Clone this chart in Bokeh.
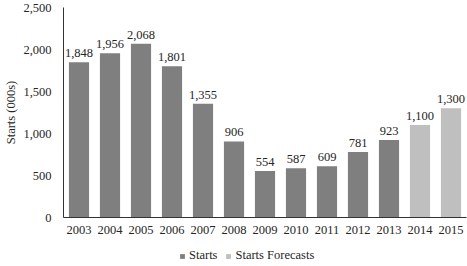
from bokeh.plotting import figure
from bokeh.layouts import column
from bokeh.models import ColumnDataSource, Legend, LegendItem, NumeralTickFormatter, FixedTicker, Range1d
from bokeh.core.properties import value
from bokeh.embed import file_html
from bokeh.resources import INLINE

years = ["2003", "2004", "2005", "2006", "2007", "2008", "2009", "2010", "2011", "2012", "2013", "2014", "2015"]
starts = [1848, 1956, 2068, 1801, 1355, 906, 554, 587, 609, 781, 923, 1100, 1300]
is_forecast = [False] * 11 + [True] * 2
labels = ["{:,}".format(v) for v in starts]
series_names = ["Starts", "Starts Forecasts"]

DARK = "#7f7f7f"
LIGHT = "#bfbfbf"
FONT = "Liberation Serif"
TXT = "#262626"

hist_idx = [i for i, f in enumerate(is_forecast) if not f]
fc_idx = [i for i, f in enumerate(is_forecast) if f]

src_h = ColumnDataSource(dict(x=[years[i] for i in hist_idx], top=[starts[i] for i in hist_idx],
                              lab=[labels[i] for i in hist_idx]))
src_f = ColumnDataSource(dict(x=[years[i] for i in fc_idx], top=[starts[i] for i in fc_idx],
                              lab=[labels[i] for i in fc_idx]))

p = figure(x_range=years, y_range=(0, 2500), width=467, height=239,
           output_backend="svg", toolbar_location=None,
           min_border_left=63, min_border_right=1, min_border_top=7, min_border_bottom=22)
p.x_range.range_padding = 0
p.outline_line_color = None
p.grid.grid_line_color = None
p.background_fill_color = "white"
p.border_fill_color = "white"

p.vbar(x="x", top="top", width=0.65, source=src_h, color=DARK, line_color=None)
p.vbar(x="x", top="top", width=0.65, source=src_f, color=LIGHT, line_color=None)

for s in (src_h, src_f):
    p.text(x="x", y="top", text="lab", source=s, text_align="center", text_baseline="bottom",
           y_offset=-5, text_font=value(FONT), text_font_size="12.5px", text_color=TXT)

p.yaxis.ticker = FixedTicker(ticks=[0, 500, 1000, 1500, 2000, 2500])
p.yaxis.formatter = NumeralTickFormatter(format="0,0")
p.yaxis.axis_label = "Starts (000s)"
for ax in (p.xaxis[0], p.yaxis[0]):
    ax.major_tick_line_color = None
    ax.minor_tick_line_color = None
    ax.major_tick_out = 0
    ax.major_tick_in = 0
    ax.axis_line_color = "#333333"
    ax.major_label_text_font = FONT
    ax.major_label_text_font_size = "12.5px"
    ax.major_label_text_color = TXT
p.yaxis.major_label_standoff = 12
p.xaxis.major_label_standoff = 8
p.yaxis.axis_label_text_font = FONT
p.yaxis.axis_label_text_font_size = "12.5px"
p.yaxis.axis_label_text_font_style = "normal"
p.yaxis.axis_label_text_color = TXT
p.yaxis.axis_label_standoff = 2

# legend strip below the chart
p2 = figure(width=467, height=27, output_backend="svg", toolbar_location=None,
            x_range=Range1d(0, 1), y_range=Range1d(0, 1),
            x_axis_location=None, y_axis_location=None,
            min_border=0, min_border_left=0, min_border_right=0, min_border_top=0, min_border_bottom=0)
p2.grid.grid_line_color = None
p2.outline_line_color = None
p2.background_fill_color = "white"
p2.border_fill_color = "white"
g1 = p2.vbar(x="x", top="top", width=0.1, source=ColumnDataSource(dict(x=[-5], top=[-5])),
             color=DARK, line_color=None)
g2 = p2.vbar(x="x", top="top", width=0.1, source=ColumnDataSource(dict(x=[-5], top=[-5])),
             color=LIGHT, line_color=None)
legend = Legend(items=[LegendItem(label=series_names[0], renderers=[g1]),
                       LegendItem(label=series_names[1], renderers=[g2])],
                orientation="horizontal", location=(116, 3),
                label_text_font=FONT, label_text_font_size="12.5px", label_text_color=TXT,
                glyph_width=6, glyph_height=6, spacing=8, label_standoff=4,
                padding=2, margin=0, border_line_color=None, background_fill_alpha=0)
p2.add_layout(legend, "center")

layout = column(p, p2, spacing=0)
open("out.html", "w").write(file_html(layout, INLINE))
